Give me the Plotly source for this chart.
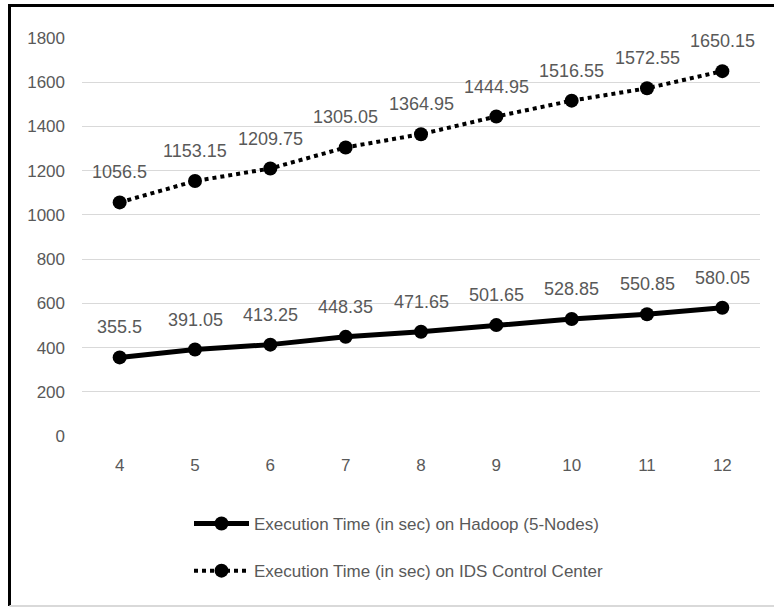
import plotly.graph_objects as go

nodes = ["4", "5", "6", "7", "8", "9", "10", "11", "12"]
hadoop = [355.5, 391.05, 413.25, 448.35, 471.65, 501.65, 528.85, 550.85, 580.05]
ids = [1056.5, 1153.15, 1209.75, 1305.05, 1364.95, 1444.95, 1516.55, 1572.55, 1650.15]
y_ticks = [0, 200, 400, 600, 800, 1000, 1200, 1400, 1600, 1800]
names = ["Execution Time (in sec) on Hadoop (5-Nodes)",
         "Execution Time (in sec) on IDS Control Center"]

FONT = "Liberation Sans, Arial, sans-serif"
GRAY = "#595959"

fig = go.Figure()
fig.add_trace(go.Scatter(
    x=nodes, y=hadoop, mode="lines+markers", name=names[0],
    legendgroup="a",
    line=dict(color="black", width=5),
    marker=dict(color="black", size=14),
    cliponaxis=False,
))
fig.add_trace(go.Scatter(
    x=nodes, y=ids, mode="lines+markers", name=names[1],
    legendgroup="b",
    line=dict(color="black", width=4, dash="dot"),
    marker=dict(color="black", size=14),
    cliponaxis=False,
))

annotations = []
for series in (hadoop, ids):
    for i, yv in enumerate(series):
        annotations.append(dict(
            x=i, y=yv, xref="x", yref="y", text=str(yv), showarrow=False,
            yanchor="middle", xanchor="center", yshift=30,
            font=dict(family=FONT, size=18, color=GRAY),
        ))

L, R, T, B = 82, 14, 38, 172
W, H = 774, 608
pw, ph = W - L - R, H - T - B

def px(xp):
    return (xp - L) / pw

def py(yp):
    return (H - B - yp) / ph

fig.update_layout(
    width=W, height=H,
    margin=dict(l=L, r=R, t=T, b=B, autoexpand=False),
    paper_bgcolor="white", plot_bgcolor="white",
    font=dict(family=FONT, size=17, color=GRAY),
    showlegend=True,
    annotations=annotations,
    legend=dict(
        orientation="v", x=px(189), xanchor="left", y=py(506), yanchor="top",
        font=dict(family=FONT, size=17, color=GRAY),
        tracegroupgap=22, itemwidth=55, bgcolor="rgba(0,0,0,0)",
    ),
    xaxis=dict(
        type="category", range=[-0.5, 8.5], showgrid=False, zeroline=False, showline=False,
        ticks="", tickfont=dict(family=FONT, size=17, color=GRAY),
        ticklabelstandoff=17, automargin=False,
    ),
    yaxis=dict(
        range=[0, 1800], tickvals=y_ticks, showgrid=True, gridcolor="#d9d9d9",
        gridwidth=1, zeroline=False, showline=False, ticks="",
        tickfont=dict(family=FONT, size=17, color=GRAY),
        ticklabelstandoff=16, automargin=False,
    ),
    shapes=[
        dict(type="line", xref="paper", yref="paper", x0=px(8), x1=px(774), y0=py(5.5), y1=py(5.5),
             line=dict(color="black", width=3)),
        dict(type="line", xref="paper", yref="paper", x0=px(9.5), x1=px(9.5), y0=py(4), y1=py(606),
             line=dict(color="black", width=3)),
        dict(type="line", xref="paper", yref="paper", x0=px(9.5), x1=px(774), y0=py(606), y1=py(606),
             line=dict(color="#d9d9d9", width=2)),
    ],
)

fig.write_html("out.html", config={"displayModeBar": False},
               post_script="document.body.style.margin='0px';")
